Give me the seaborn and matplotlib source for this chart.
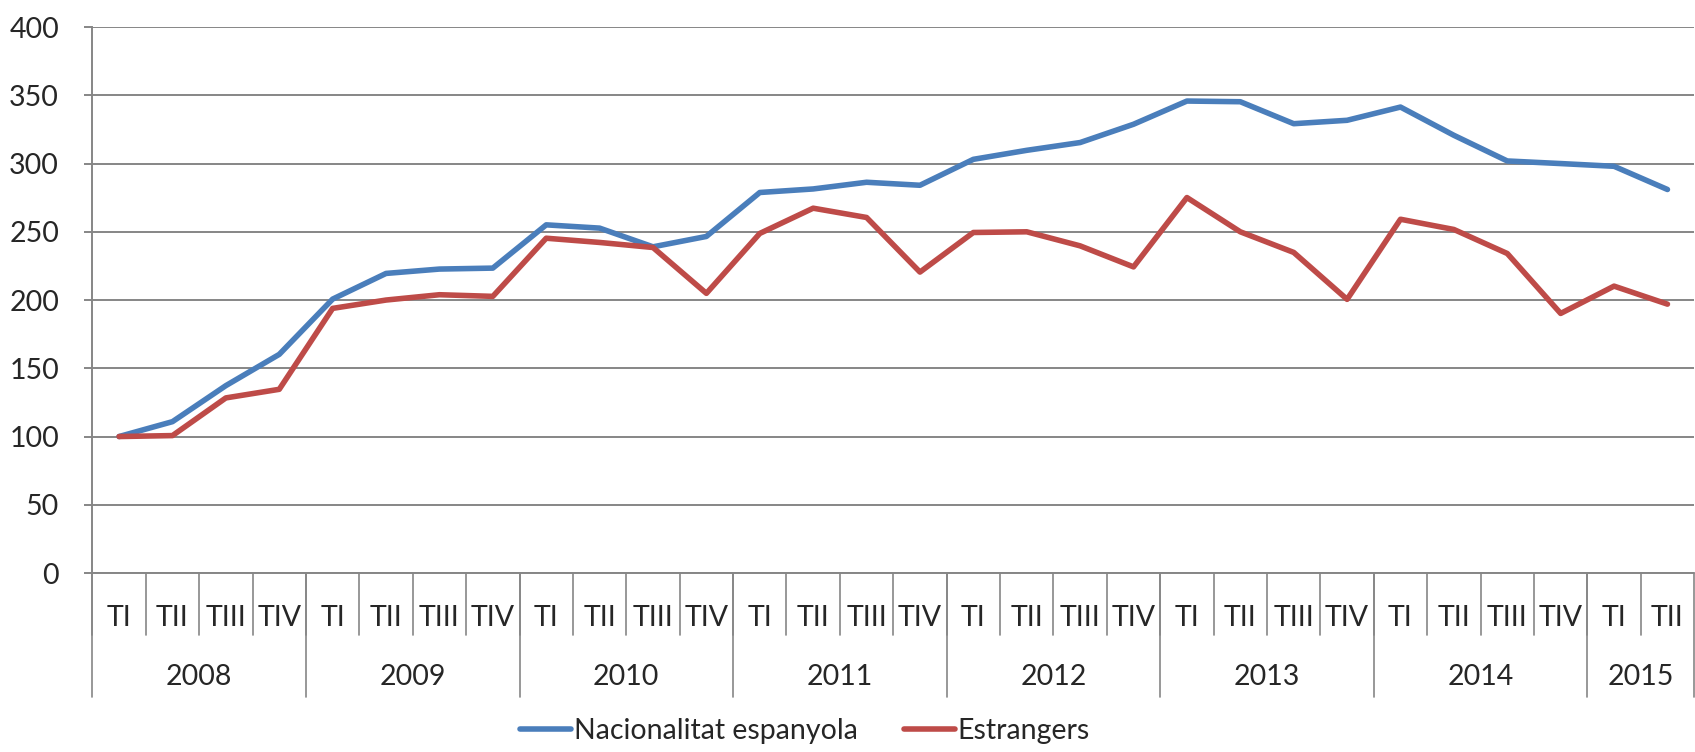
import pandas as pd
import seaborn as sns
import matplotlib.pyplot as plt

# Quarterly index (2008 TI = 100)
years = ['2008', '2009', '2010', '2011', '2012', '2013', '2014', '2015']
quarters_per_year = [4, 4, 4, 4, 4, 4, 4, 2]
quarter_names = ['TI', 'TII', 'TIII', 'TIV']

nacionalitat = [100, 110.9, 137.3, 160.2, 200.7, 219.5, 222.7, 223.4,
                255.1, 252.7, 239.0, 246.6, 278.8, 281.4, 286.3, 284.1,
                303.1, 309.7, 315.4, 328.8, 345.8, 345.3, 329.2, 331.7,
                341.4, 320.7, 301.9, 300.0, 298.0, 281.0]
estrangers = [100, 100.7, 128.3, 134.6, 193.9, 200.0, 203.9, 202.7,
              245.3, 242.2, 238.5, 204.9, 248.8, 267.3, 260.5, 220.5,
              249.5, 250.0, 239.7, 224.3, 275.1, 250.0, 234.9, 200.5,
              259.2, 251.7, 234.1, 190.2, 210.2, 197.0]

quarter_labels = [q for n in quarters_per_year for q in quarter_names[:n]]
n = len(quarter_labels)

df = pd.DataFrame({
    'pos': list(range(n)) * 2,
    'value': nacionalitat + estrangers,
    'serie': ['Nacionalitat espanyola'] * n + ['Estrangers'] * n,
})

sns.set_style('white')
plt.rcParams['font.family'] = ['Lato', 'DejaVu Sans']

fig = plt.figure(figsize=(16.95, 7.52), dpi=100)
ax = fig.add_axes([0.0545, 0.238, 0.945, 0.726])

grid_col = '#868686'
palette = {'Nacionalitat espanyola': '#4A7EBB', 'Estrangers': '#BE4B48'}
sns.lineplot(data=df, x='pos', y='value', hue='serie', palette=palette,
             linewidth=4, ax=ax, legend=True)

ax.set_xlim(-0.5, n - 0.5)
ax.set_ylim(0, 400)
ax.set_yticks(range(0, 401, 50))
ax.yaxis.grid(True, color=grid_col, linewidth=1.4)
ax.set_axisbelow(True)
ax.set_xticks([])
ax.set_xlabel('')
ax.set_ylabel('')
for side in ['top', 'right', 'bottom']:
    ax.spines[side].set_visible(False)
ax.spines['left'].set_color(grid_col)
ax.spines['left'].set_linewidth(1.4)
ax.tick_params(axis='y', length=6, width=1.4, color=grid_col, pad=18,
               labelsize=20.5, left=True)

# two-level category axis
trans = ax.get_xaxis_transform()
ax.plot([-0.5, n - 0.5], [0, 0], color=grid_col, lw=1.4, transform=trans, clip_on=False)
for i, q in enumerate(quarter_labels):
    ax.text(i, -0.082, q, transform=trans, ha='center', va='center', fontsize=20.5)
    ax.plot([i - 0.5, i - 0.5], [0, -0.114], color=grid_col, lw=1.2,
            transform=trans, clip_on=False)
start = 0
for y, k in zip(years, quarters_per_year):
    ax.text(start + k / 2 - 0.5, -0.19, y, transform=trans, ha='center',
            va='center', fontsize=20.5)
    ax.plot([start - 0.5, start - 0.5], [0, -0.227], color=grid_col, lw=1.2,
            transform=trans, clip_on=False)
    start += k
ax.plot([n - 0.5, n - 0.5], [0, -0.227], color=grid_col, lw=1.2,
        transform=trans, clip_on=False)

handles, labels = ax.get_legend_handles_labels()
ax.get_legend().remove()
fig.legend(handles, labels, loc='center', bbox_to_anchor=(0.475, 0.028),
           ncol=2, frameon=False, fontsize=20.5, handlelength=1.8,
           handletextpad=0.1, columnspacing=1.6, borderpad=0.1)

fig.savefig('out.png', dpi=100)
